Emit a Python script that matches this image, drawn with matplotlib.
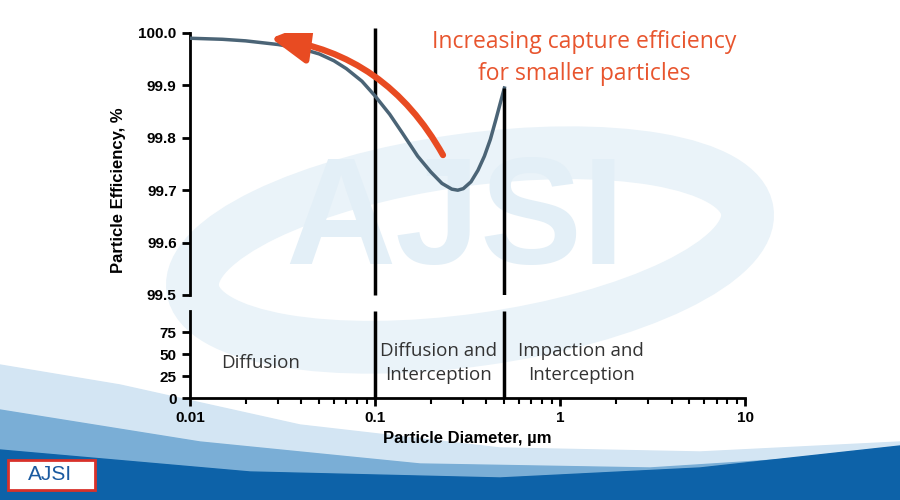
import numpy as np
import matplotlib.pyplot as plt
from matplotlib.patches import Polygon, Ellipse, FancyArrowPatch

# curve
diam = [0.01, 0.015, 0.02, 0.03, 0.04, 0.05, 0.06, 0.07, 0.085, 0.1, 0.12, 0.14, 0.17, 0.2,
        0.23, 0.26, 0.28, 0.30, 0.33, 0.36, 0.39, 0.42, 0.45, 0.48, 0.5]
eff = [99.99, 99.988, 99.985, 99.978, 99.97, 99.96, 99.947, 99.932, 99.908, 99.88, 99.845,
       99.81, 99.765, 99.735, 99.713, 99.702, 99.70, 99.703, 99.716, 99.738, 99.765, 99.797,
       99.835, 99.872, 99.895]

bounds = [0.1, 0.5]
regions = ["Diffusion", "Diffusion and\nInterception", "Impaction and\nInterception"]
region_x = [0.024, 0.22, 1.3]

top_ticks = [99.5, 99.6, 99.7, 99.8, 99.9, 100.0]
bot_ticks = [0, 25, 50, 75]

fig = plt.figure(figsize=(9, 5), dpi=100)
fig.patch.set_facecolor("white")

# background decoration
bg = fig.add_axes([0, 0, 1, 1], zorder=-10)
bg.set_xlim(0, 900); bg.set_ylim(500, 0); bg.axis("off")
bg.add_patch(Ellipse((470, 250), 560, 180, angle=-8, fill=False, lw=38, ec="#eaf3f9"))
bg.text(455, 225, "AJSI", fontsize=110, color="#e3eff7", ha="center", va="center",
        fontweight="bold", family="Liberation Sans")
bg.add_patch(Polygon([(0, 365), (120, 385), (300, 425), (500, 448), (700, 452), (900, 442),
                      (900, 500), (0, 500)], color="#d3e5f3"))
bg.add_patch(Polygon([(0, 410), (200, 442), (420, 464), (650, 468), (900, 452),
                      (900, 500), (0, 500)], color="#7aaed6"))
bg.add_patch(Polygon([(0, 450), (250, 472), (500, 478), (700, 468), (900, 446),
                      (900, 500), (0, 500)], color="#0d62a8"))
bg.add_patch(Polygon([(8, 460), (95, 460), (95, 490), (8, 490)], fc="white", ec="#d8312a", lw=2))
bg.text(50, 475, "AJSI", color="#1a5aa0", fontsize=15, ha="center", va="center", family="Liberation Sans")

bold = dict(family="Liberation Sans", fontweight="bold", fontsize=11)

ax = fig.add_axes([0.211, 0.41, 0.617, 0.524])
ax2 = fig.add_axes([0.211, 0.204, 0.617, 0.174])
for a in (ax, ax2):
    a.set_facecolor("none")
    a.set_xscale("log")
    a.set_xlim(0.01, 10)
    for s in ("top", "right"):
        a.spines[s].set_visible(False)
    a.spines["left"].set_linewidth(2)
    a.tick_params(width=2, length=6, labelsize=11)

ax.plot(diam, eff, color="#4b6476", lw=2.5, zorder=3)
ax.set_ylim(99.5, 100.0)
ax.set_yticks(top_ticks)
ax.set_yticklabels([f"{t:.1f}" for t in top_ticks], **bold)
ax.spines["bottom"].set_visible(False)
ax.set_xticks([]); ax.minorticks_off()
ax.tick_params(axis="x", which="both", bottom=False, labelbottom=False)
ax.vlines(bounds[0], 99.5, 100.01, color="black", lw=2.5, clip_on=False)
ax.vlines(bounds[1], 99.5, eff[-1], color="black", lw=2.5, zorder=4)
ax.set_ylabel("Particle Efficiency, %", fontsize=12, fontweight="bold", family="Liberation Sans")
ax.yaxis.set_label_coords(-0.115, 0.4)

ax.add_patch(FancyArrowPatch((0.233, 99.767), (0.0275, 99.99), connectionstyle="arc3,rad=0.25",
                             arrowstyle="-|>,head_length=9,head_width=5", color="#e84b22", lw=4.5,
                             mutation_scale=2.5, shrinkA=0, shrinkB=0, zorder=5))
ax.text(0.71, 1.01, "Increasing capture efficiency\nfor smaller particles", transform=ax.transAxes,
        ha="center", va="top", color="#e8552e", fontsize=16.5, family="Open Sans",
        linespacing=1.45)

ax2.set_ylim(0, 99)
ax2.set_yticks(bot_ticks)
ax2.set_yticklabels([str(t) for t in bot_ticks], **bold)
ax2.spines["bottom"].set_linewidth(2)
ax2.set_xticks([0.01, 0.1, 1, 10])
ax2.set_xticklabels(["0.01", "0.1", "1", "10"], **bold)
ax2.tick_params(axis="x", which="minor", width=1.5, length=4)
ax2.vlines(bounds, 0, 99, color="black", lw=2.5)
for x, t in zip(region_x, regions):
    ax2.text(x, 40, t, ha="center", va="center", fontsize=13.5,
             family="Open Sans", color="#333333", linespacing=1.45)
ax2.set_xlabel("Particle Diameter, \u00b5m", fontsize=12, fontweight="bold", family="Liberation Sans")

fig.savefig("out.png", dpi=100)
